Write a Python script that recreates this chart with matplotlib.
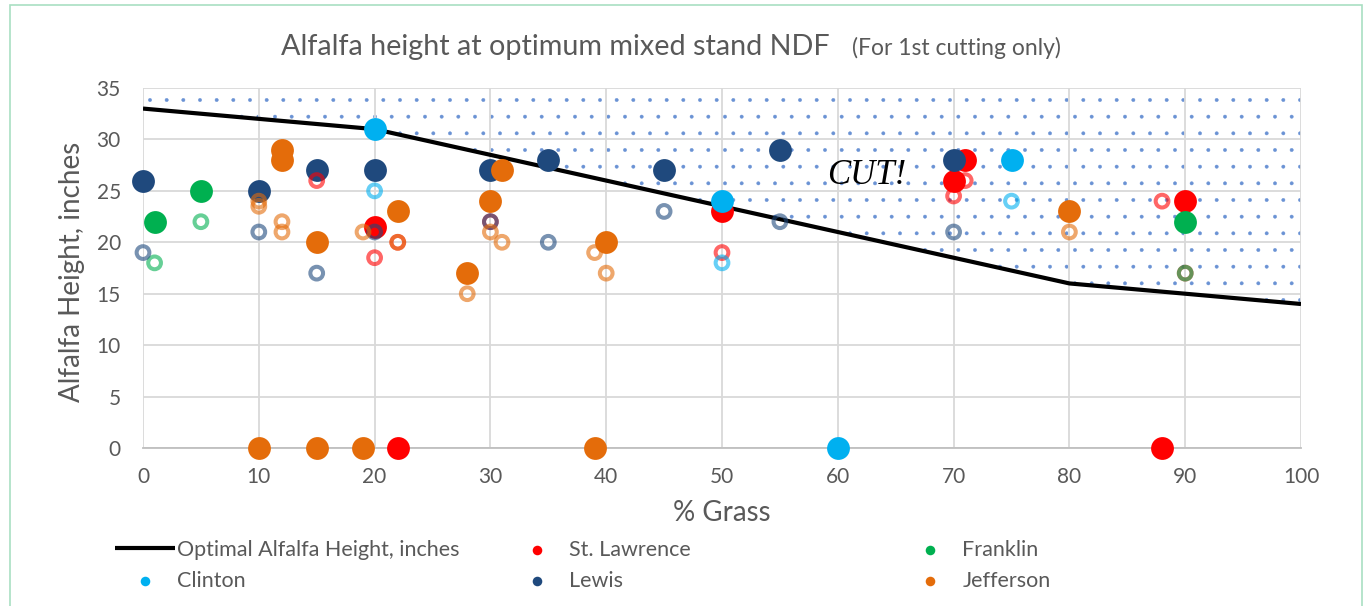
import matplotlib
matplotlib.use("Agg")
import matplotlib.pyplot as plt
from matplotlib.patches import Rectangle

# optimal line
grass_pct = [0, 10, 20, 30, 40, 50, 60, 70, 80, 90, 100]
optimal_height = [33, 32, 31, 28.5, 26, 23.5, 21, 18.5, 16, 15, 14]

# filled points (legend) and hollow points (no legend), per county
stlaw_x = [20, 22, 50, 70, 71, 88, 90]
stlaw_y = [21.5, 0, 23, 26, 28, 0, 24]
stlaw_hx = [15, 20, 22, 30, 50, 70, 71, 88, 90]
stlaw_hy = [26, 18.5, 20, 22, 19, 24.5, 26, 24, 17]

franklin_x = [1, 5, 90]
franklin_y = [22, 25, 22]
franklin_hx = [1, 5, 90]
franklin_hy = [18, 22, 17]

clinton_x = [20, 50, 60, 75]
clinton_y = [31, 24, 0, 28]
clinton_hx = [20, 50, 75]
clinton_hy = [25, 18, 24]

lewis_x = [0, 10, 15, 20, 30, 35, 45, 55, 70]
lewis_y = [26, 25, 27, 27, 27, 28, 27, 29, 28]
lewis_hx = [0, 10, 15, 20, 30, 35, 45, 55, 70]
lewis_hy = [19, 21, 17, 21, 22, 20, 23, 22, 21]

jeff_x = [10, 12, 12, 15, 15, 19, 22, 28, 30, 31, 39, 40, 80]
jeff_y = [0, 29, 28, 20, 0, 0, 23, 17, 24, 27, 0, 20, 23]
jeff_hx = [10, 10, 12, 12, 19, 22, 28, 30, 31, 39, 40, 80]
jeff_hy = [24, 23.5, 22, 21, 21, 20, 15, 21, 20, 19, 17, 21]

names = ['St. Lawrence', 'Franklin', 'Clinton', 'Lewis', 'Jefferson']
colors = ['#FF0000', '#00B050', '#00B0F0', '#1F497D', '#E46C0A']
filled = [(stlaw_x, stlaw_y), (franklin_x, franklin_y), (clinton_x, clinton_y),
          (lewis_x, lewis_y), (jeff_x, jeff_y)]
hollow = [(stlaw_hx, stlaw_hy), (franklin_hx, franklin_hy), (clinton_hx, clinton_hy),
          (lewis_hx, lewis_hy), (jeff_hx, jeff_hy)]

plt.rcParams['font.family'] = ['Lato', 'DejaVu Sans']
plt.rcParams['hatch.linewidth'] = 0.3
gray = '#595959'

fig = plt.figure(figsize=(13.66, 6.06), dpi=100)
ax = fig.add_axes([143/1366, 1-448/606, 1158/1366, 360/606])

ax.fill_between(grass_pct, optimal_height, 35, facecolor='none', edgecolor='#6A92D4',
                hatch='.', linewidth=0, zorder=0.5)
hline, = ax.plot(grass_pct, optimal_height, color='black', lw=3, zorder=2,
                 solid_capstyle='butt')

handles = []
for (xs, ys), c in zip(filled, colors):
    h = ax.scatter(xs, ys, s=270, color=c, linewidths=0, zorder=3, clip_on=False)
    handles.append(h)
for (xs, ys), c in zip(hollow, colors):
    ax.scatter(xs, ys, s=84, facecolors='none', edgecolors=c, linewidths=2.9,
               alpha=0.6, zorder=4, clip_on=False)

ax.text(62.5, 26.5, 'CUT!', family='Liberation Serif', style='italic', fontsize=25,
        ha='center', va='center', zorder=5)

ax.set_xlim(0, 100)
ax.set_ylim(0, 35)
ax.set_xticks(range(0, 101, 10))
ax.set_yticks(range(0, 36, 5))
ax.grid(True, color='#D9D9D9', lw=1.3)
ax.set_axisbelow(True)
for s in ['top', 'right', 'left']:
    ax.spines[s].set_visible(False)
ax.spines['bottom'].set_color('#BFBFBF')
ax.spines['bottom'].set_linewidth(1.3)
ax.tick_params(length=0, labelsize=15, labelcolor=gray)
ax.tick_params(axis='y', pad=16)
ax.tick_params(axis='x', pad=14)

ax.set_xlabel('% Grass', fontsize=20, color=gray)
ax.xaxis.set_label_coords(0.5, -0.145)
ax.set_ylabel('Alfalfa Height, inches', fontsize=20, color=gray)
ax.yaxis.set_label_coords(-0.05, 0.49)

fig.text(281/1366, 1-55/606, 'Alfalfa height at optimum mixed stand NDF', fontsize=20.7,
         color=gray, va='baseline')
fig.text(852/1366, 1-55/606, '(For 1st cutting only)', fontsize=16.5,
         color=gray, va='baseline')

# legend in three column blocks
groups = [([hline, handles[2]], ['Optimal Alfalfa Height, inches', 'Clinton'], 115),
          ([handles[0], handles[3]], ['St. Lawrence', 'Lewis'], 507),
          ([handles[1], handles[4]], ['Franklin', 'Jefferson'], 900)]
for hs, labs, px in groups:
    fig.legend(hs, labs, loc='upper left', bbox_to_anchor=(px/1366, 1-540/606),
               frameon=False, borderpad=0, borderaxespad=0, handlelength=2.8,
               handletextpad=0.1, labelspacing=0.5, markerscale=0.42,
               fontsize=15.5, labelcolor=gray)

fig.patches.append(Rectangle((10/1366, -0.1), 1352/1366, 1.1-5/606, transform=fig.transFigure,
                             fill=False, edgecolor='#A9DFC2', lw=1.2))

fig.savefig('out.png', dpi=100)
